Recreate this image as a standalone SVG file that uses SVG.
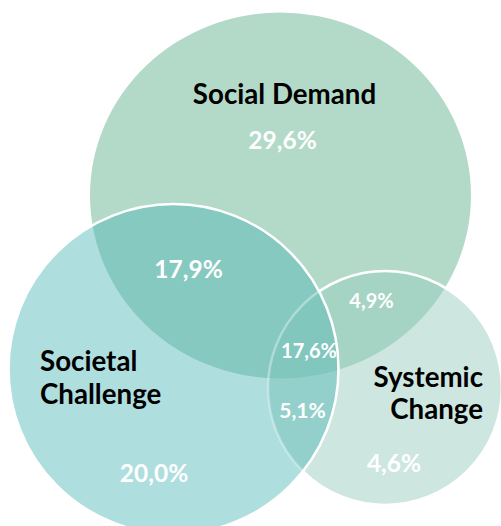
<svg xmlns="http://www.w3.org/2000/svg" width="501" height="526" viewBox="0 0 501 526">
  <style>
    .lbl { font-family: Lato, "Liberation Sans", "DejaVu Sans", sans-serif; font-weight: bold; fill: #000000; font-size: 27.7px; }
    .pct { font-family: Lato, "Liberation Sans", "DejaVu Sans", sans-serif; font-weight: bold; fill: #ffffff; font-size: 24.5px; text-anchor: middle; }
    .pcts { font-size: 20px; }
    .edge { fill: none; stroke: #ffffff; stroke-width: 2.5; }
  </style>
  <defs>
    <clipPath id="clipSD"><ellipse cx="280.5" cy="195.5" rx="190.5" ry="183"/></clipPath>
    <clipPath id="clipSC"><circle cx="173.5" cy="369" r="165"/></clipPath>
  </defs>

  <g id="social-demand">
    <ellipse cx="280.5" cy="195.5" rx="190.5" ry="183" fill="#b3d9c8"/>
  </g>

  <g id="systemic-change">
    <circle cx="385" cy="388" r="117" fill="#cee6e0"/>
    <circle cx="385" cy="388" r="117" fill="#a6d4c4" clip-path="url(#clipSD)"/>
    <circle cx="385" cy="388" r="117" class="edge"/>
  </g>

  <g id="societal-challenge">
    <circle cx="173.5" cy="369" r="165" fill="#aedede"/>
    <circle cx="173.5" cy="369" r="165" fill="#86c9c0" clip-path="url(#clipSD)"/>
    <circle cx="385" cy="388" r="117" fill="#93d0cc" clip-path="url(#clipSC)"/>
    <g clip-path="url(#clipSD)">
      <circle cx="385" cy="388" r="117" fill="#82c7be" clip-path="url(#clipSC)"/>
    </g>
    <circle cx="385" cy="388" r="117" class="edge" stroke-opacity="0.35" clip-path="url(#clipSC)"/>
    <circle cx="173.5" cy="369" r="165" class="edge"/>
  </g>

  <g id="connectors"/>

  <g id="labels">
    <text class="lbl" x="284.5" y="104" text-anchor="middle">Social Demand</text>
    <text class="lbl" x="40" y="371">Societal</text>
    <text class="lbl" x="40" y="404">Challenge</text>
    <text class="lbl" x="483" y="387" text-anchor="end">Systemic</text>
    <text class="lbl" x="483" y="419" text-anchor="end">Change</text>

    <text class="pct" x="282.5" y="149">29,6%</text>
    <text class="pct" x="188.5" y="278">17,9%</text>
    <text class="pct pcts" x="371.5" y="308">4,9%</text>
    <text class="pct pcts" x="309" y="358">17,6%</text>
    <text class="pct" x="302.5" y="418" style="font-size:21px">5,1%</text>
    <text class="pct" x="154" y="482">20,0%</text>
    <text class="pct" x="394" y="472">4,6%</text>
  </g>
</svg>
